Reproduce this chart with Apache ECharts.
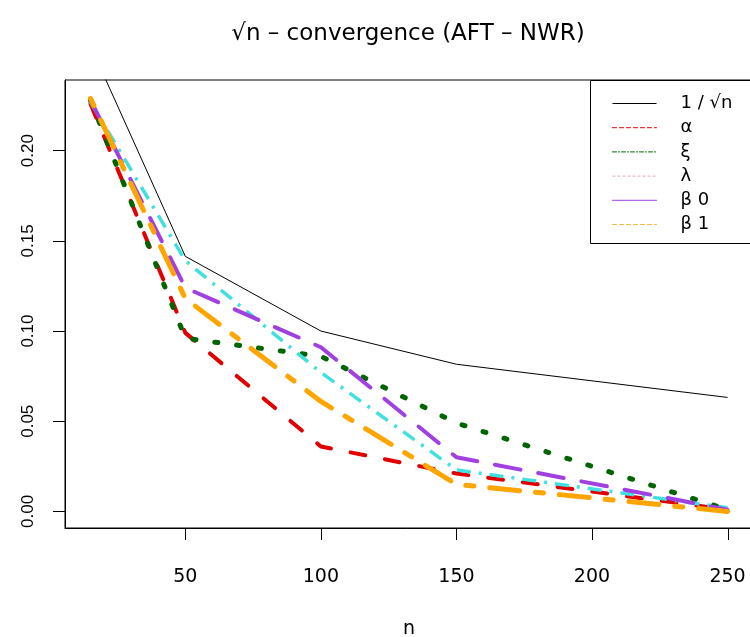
<!DOCTYPE html>
<html>
<head>
<meta charset="utf-8">
<script src="https://cdn.jsdelivr.net/npm/echarts@6/dist/echarts.min.js"></script>
<style>html,body{margin:0;padding:0;background:#fff}#c{width:750px;height:637px}</style>
</head>
<body>
<div id="c"></div>
<script>
// ---- data ----
var nValues = [15, 50, 100, 150, 250];
var invSqrtN = [0.2582, 0.1414, 0.1000, 0.0816, 0.0632];
var alphaVals = [0.226, 0.099, 0.036, 0.021, 0.001];
var xiVals = [0.228, 0.096, 0.086, 0.049, 0.001];
var lambdaVals = [0.227, 0.139, 0.077, 0.023, 0.002];
var beta0Vals = [0.228, 0.124, 0.091, 0.030, 0.001];
var beta1Vals = [0.229, 0.118, 0.061, 0.015, 0.000];
var seriesNames = ['1 / \u221An', '\u03B1', '\u03BE', '\u03BB', '\u03B2 0', '\u03B2 1'];
var xTicks = [50, 100, 150, 200, 250];
var yTicks = [0, 0.05, 0.10, 0.15, 0.20];
var titleText = '\u221An \u2013 convergence (AFT \u2013 NWR)';
var xName = 'n';

var X_MIN = 5.6, X_MAX = 259.4, Y_MIN = -0.0092, Y_MAX = 0.2392;

function pairs(ys) { return nValues.map(function (n, i) { return [n, ys[i]]; }); }

var FONT = 'Liberation Sans, Arial, sans-serif';
var WFONT = 'DejaVu Sans, Liberation Sans, sans-serif';
var chart = echarts.init(document.getElementById('c'), null, { renderer: 'canvas' });

var styles = [
  { color: '#000000', width: 1, type: 'solid', cap: 'butt' },
  { color: '#E00000', width: 4, type: [15, 20], cap: 'round' },
  { color: '#006400', width: 5, type: [3, 19], cap: 'round' },
  { color: '#40E0E0', width: 3.5, type: [14, 8, 3, 8], cap: 'butt' },
  { color: '#A040E0', width: 4, type: [26, 18], cap: 'round' },
  { color: '#FFA500', width: 5, type: [8, 16, 30, 16], cap: 'round' }
];
var legendStyles = [
  { color: '#000000', type: 'solid' },
  { color: '#E00000', type: [4, 3] },
  { color: '#006400', type: [4, 2, 1, 2] },
  { color: '#D8A8C0', type: [3, 2] },
  { color: '#A040E0', type: 'solid' },
  { color: '#F0B840', type: [4, 3] }
];
var allVals = [invSqrtN, alphaVals, xiVals, lambdaVals, beta0Vals, beta1Vals];

var series = allVals.map(function (vals, i) {
  var s = styles[i];
  return {
    name: seriesNames[i],
    type: 'line',
    data: pairs(vals),
    symbol: 'none',
    clip: true,
    animation: false,
    z: 2 + i * 0.01,
    lineStyle: { color: s.color, width: s.width, type: s.type, cap: s.cap, join: 'round' },
    itemStyle: { color: s.color }
  };
});

var option = {
  backgroundColor: '#ffffff',
  animation: false,
  title: {
    text: titleText,
    left: 403,
    top: 18,
    textAlign: 'center',
    textStyle: { fontFamily: WFONT, fontSize: 23, fontWeight: 'normal', color: '#000' }
  },
  grid: {
    left: 65, top: 80, width: 688, height: 448,
    containLabel: false,
    outerBoundsMode: 'none',
    show: true, borderColor: '#000', borderWidth: 1, backgroundColor: 'transparent'
  },
  xAxis: {
    type: 'value',
    min: X_MIN, max: X_MAX,
    name: xName,
    nameLocation: 'middle',
    nameGap: 92,
    nameTextStyle: { fontFamily: WFONT, fontSize: 19, color: '#000' },
    axisLine: { show: true, onZero: false, lineStyle: { color: '#000', width: 1 } },
    axisTick: { show: false },
    axisLabel: { customValues: xTicks, margin: 40, fontFamily: WFONT, fontSize: 19, color: '#000' },
    splitLine: { show: false }
  },
  yAxis: {
    type: 'value',
    min: Y_MIN, max: Y_MAX,
    axisLine: { show: true, onZero: false, lineStyle: { color: '#000', width: 1 } },
    axisTick: { show: true, length: 12, customValues: yTicks, lineStyle: { color: '#000' } },
    axisLabel: {
      customValues: yTicks, rotate: 90, margin: 28,
      fontFamily: FONT, fontSize: 17, color: '#000',
      formatter: function (v) { return v.toFixed(2); }
    },
    splitLine: { show: false }
  },
  legend: {
    orient: 'vertical',
    left: 612, top: 94.5,
    padding: 0,
    itemWidth: 44, itemHeight: 17, itemGap: 6.2,
    z: 10,
    selectedMode: false,
    textStyle: { fontFamily: WFONT, fontSize: 18, color: '#000', lineHeight: 17, padding: [0, 0, 0, 19] },
    data: seriesNames.map(function (nm, i) {
      return {
        name: nm,
        itemStyle: { opacity: 0, color: 'rgba(0,0,0,0)', borderWidth: 0 },
        lineStyle: { color: legendStyles[i].color, width: 1, type: legendStyles[i].type, opacity: 1 }
      };
    })
  },
  graphic: [
    {
      id: 'legendBox',
      type: 'rect', z: 5,
      shape: { x: 590.5, y: 80.5, width: 170, height: 163 },
      style: { fill: '#ffffff', stroke: '#000000', lineWidth: 1 }
    }
  ],
  series: series
};
chart.setOption(option);

// x-axis tick marks placed through the axis scale
var tickGraphics = xTicks.map(function (t, i) {
  var p = chart.convertToPixel({ gridIndex: 0 }, [t, Y_MIN]);
  var x = Math.round(p[0]) + 0.5;
  return {
    id: 'xtick' + i,
    type: 'line',
    z: 20,
    silent: true,
    shape: { x1: x, y1: p[1], x2: x, y2: p[1] + 12 },
    style: { stroke: '#000000', lineWidth: 1 }
  };
});
chart.setOption({ graphic: tickGraphics });
</script>
</body>
</html>
